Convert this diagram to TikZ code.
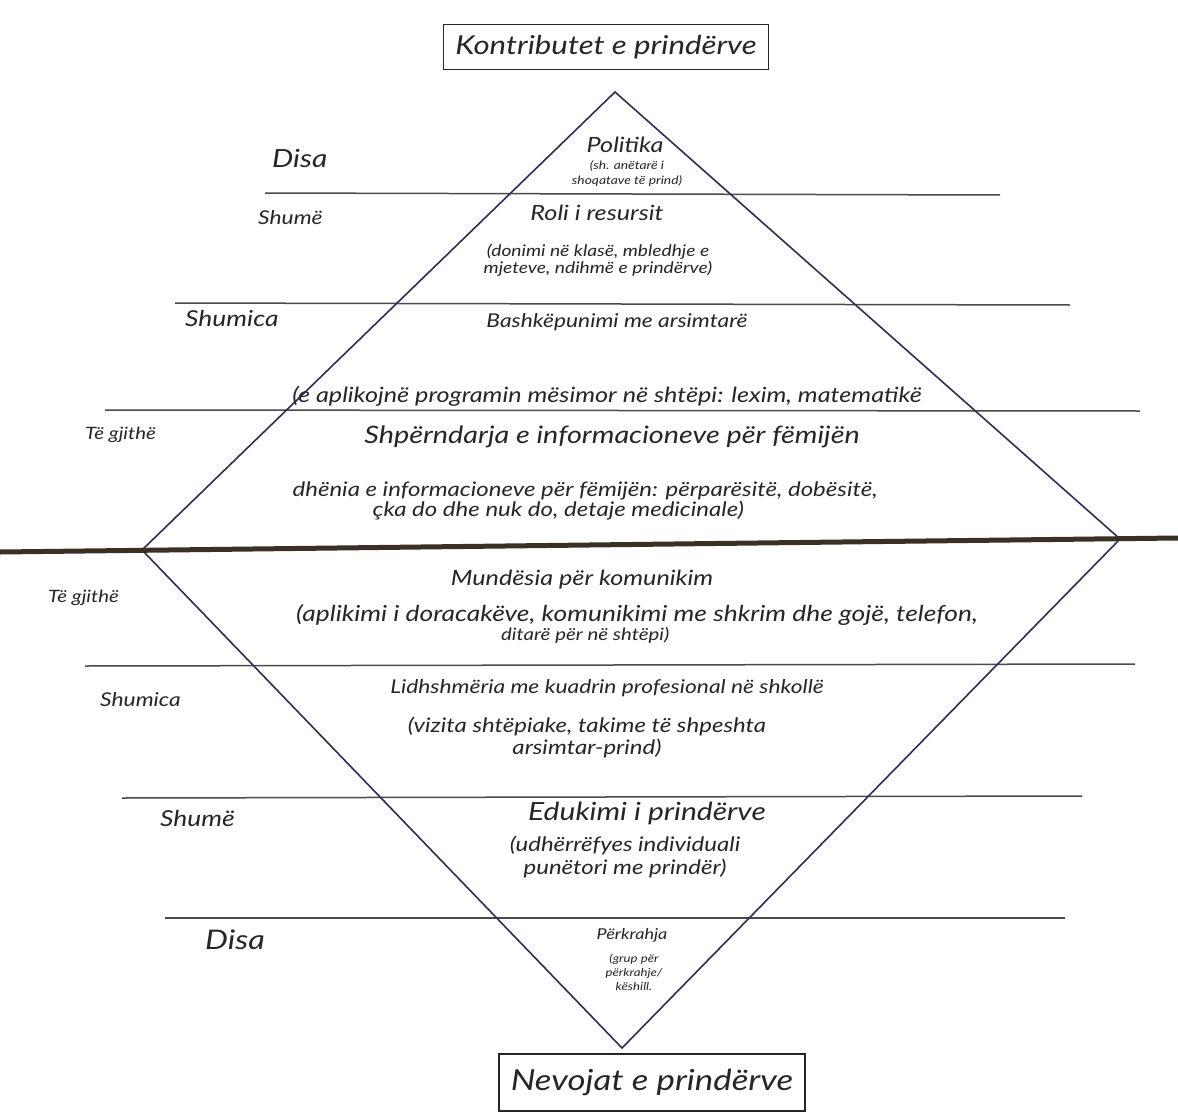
\documentclass[tikz,border=0pt]{standalone}
\usepackage{fontspec}
\setmainfont[FakeStretch=1.2]{Lato}
\definecolor{ink}{HTML}{262626}
\definecolor{rulegray}{HTML}{4A4A4A}
\definecolor{edge}{HTML}{2E2E58}
\definecolor{divider}{HTML}{3B3024}
\newcommand\hw[2]{\fontsize{#1}{#2}\selectfont\itshape}
\tikzset{
  rule/.style={draw=rulegray, line width=1.5pt},
  diamondedge/.style={draw=edge, line width=1.6pt, line join=miter},
  mainrule/.style={draw=divider, line width=5pt},
  txt/.style={text=ink, inner sep=0pt, align=center},
  tierlabel/.style={txt, anchor=west},
  titlebox/.style={draw=ink, line width=1.6pt, text=ink, inner xsep=12pt, inner ysep=6pt}
}
\begin{document}
\begin{tikzpicture}[x=1pt, y=-1pt]
  \useasboundingbox[fill=white] (0,0) rectangle (1178,1116);

  % corners of the diamond
  \coordinate (top) at (615,92);
  \coordinate (left) at (142,550);
  \coordinate (right) at (1120,539);
  \coordinate (bottom) at (622,1048);

  % horizontal rules separating the tiers
  \coordinate (r1a) at (265,193);  \coordinate (r1b) at (1000,195);
  \coordinate (r2a) at (175,303);  \coordinate (r2b) at (1070,305);
  \coordinate (r3a) at (105,410);  \coordinate (r3b) at (1140,411);
  \coordinate (r4a) at (85,666);   \coordinate (r4b) at (1135,664);
  \coordinate (r5a) at (122,798);  \coordinate (r5b) at (1082,796);
  \coordinate (r6a) at (165,918);  \coordinate (r6b) at (1065,918);
  \coordinate (mida) at (0,552);   \coordinate (midb) at (1178,538);

  \draw[rule] (r1a) -- (r1b);
  \draw[rule] (r2a) -- (r2b);
  \draw[rule] (r3a) -- (r3b);
  \draw[rule] (r4a) -- (r4b);
  \draw[rule] (r5a) -- (r5b);
  \draw[rule] (r6a) -- (r6b);

  \draw[diamondedge] (top) -- (right) -- (bottom) -- (left) -- cycle;
  \draw[mainrule] (mida) -- (midb);

  % boxed headings
  \node[titlebox, font=\hw{26}{30}, minimum width=322pt, minimum height=45pt] (contrib) at (606,47) {Kontributet e prindërve};
  \node[titlebox, font=\hw{29}{33}, anchor=north, minimum width=295pt, minimum height=57pt] (needs) at (652,1053) {Nevojat e prindërve};

  % tier labels on the left
  \node[tierlabel, font=\hw{25}{29}] (l1) at (272,158) {Disa};
  \node[tierlabel, font=\hw{19}{23}] (l2) at (258,218) {Shumë};
  \node[tierlabel, font=\hw{22}{26}] (l3) at (185,318) {Shumica};
  \node[tierlabel, font=\hw{17}{21}] (l4) at (85,435) {Të gjithë};
  \node[tierlabel, font=\hw{17}{21}] (l5) at (48,598) {Të gjithë};
  \node[tierlabel, font=\hw{19}{23}] (l6) at (100,700) {Shumica};
  \node[tierlabel, font=\hw{22}{26}] (l7) at (160,818) {Shumë};
  \node[tierlabel, font=\hw{27}{31}] (l8) at (205,940) {Disa};

  % upper half: contributions
  \node[txt, font=\hw{21}{24}] (t1) at (625,145) {Politika};
  \node[txt, font=\hw{11.5}{15}] (d1) at (627,174) {(sh. anëtarë i\\shoqatave të prind)};

  \node[txt, font=\hw{21}{24}] (t2) at (597,213) {Roli i resursit};
  \node[txt, font=\hw{16}{17}] (d2) at (598,260) {(donimi në klasë, mbledhje e\\mjeteve, ndihmë e prindërve)};

  \node[txt, font=\hw{19}{23}] (t3) at (617,322) {Bashkëpunimi me arsimtarë};
  \node[txt, font=\hw{21}{25}] (d3) at (607,396) {(e aplikojnë programin mësimor në shtëpi: lexim, matematikë};

  \node[txt, font=\hw{24}{28}] (t4) at (612,437) {Shpërndarja e informacioneve për fëmijën};
  \node[txt, font=\hw{20}{17}, align=left] (d4) at (585,501) {dhënia e informacioneve për fëmijën: përparësitë, dobësitë,\\\hspace*{80pt}çka do dhe nuk do, detaje medicinale)};

  % lower half: needs
  \node[txt, font=\hw{21}{26}] (t5) at (582,580) {Mundësia për komunikim};
  \node[txt, font=\hw{22}{19}, align=left] (d5) at (637,624) {(aplikimi i doracakëve, komunikimi me shkrim dhe gojë, telefon,\\\hspace*{205pt}{\fontsize{17}{19}\selectfont ditarë për në shtëpi)}};

  \node[txt, font=\hw{19}{23}] (t6) at (607,688) {Lidhshmëria me kuadrin profesional në shkollë};
  \node[txt, font=\hw{20}{22}] (d6) at (587,737) {(vizita shtëpiake, takime të shpeshta\\arsimtar-prind)};

  \node[txt, font=\hw{25}{28}] (t7) at (647,813) {Edukimi i prindërve};
  \node[txt, font=\hw{20}{23}] (d7) at (625,857) {(udhërrëfyes individuali\\punëtori me prindër)};

  \node[txt, font=\hw{15}{18}] (t8) at (632,935) {Përkrahja};
  \node[txt, font=\hw{11}{14}] (d8) at (634,972) {(grup për\\përkrahje/\\këshill.};
\end{tikzpicture}
\end{document}
